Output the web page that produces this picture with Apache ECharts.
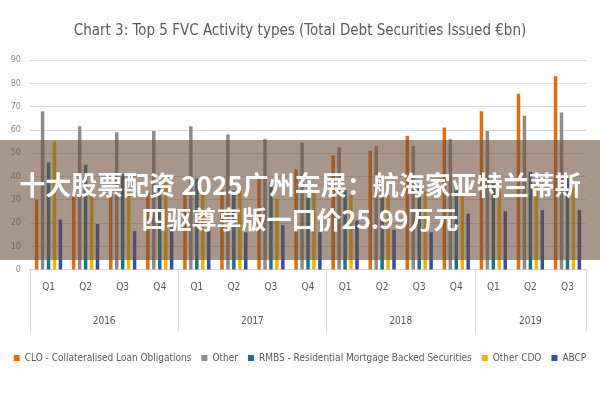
<html>
<head>
<script src="https://cdn.jsdelivr.net/npm/echarts@6/dist/echarts.min.js"></script>
<style>
  body { margin: 0; }
  #chart { width: 600px; height: 400px; }
</style>
</head>
<body>
<div id="chart"></div>
<script>
  var quarters = ['Q1', 'Q2', 'Q3', 'Q4', 'Q1', 'Q2', 'Q3', 'Q4', 'Q1', 'Q2', 'Q3', 'Q4', 'Q1', 'Q2', 'Q3'];
  var years = ['2016', '2017', '2018', '2019'];
  var yearEdges = [0, 4, 8, 12, 15];
  var yearCentres = [2, 6, 10, 13.5];

  var clo = [30, 31.5, 32.5, 33.5, 33.5, 34, 39.5, 43, 49, 51, 57.5, 61, 68, 75.5, 83];
  var other = [68, 61.5, 59, 59.5, 61.5, 58, 56, 54.5, 52.5, 53, 53, 56, 59.5, 66, 67.5];
  var rmbs = [46, 45, 41, 36, 39, 34, 37.5, 31, 34, 37, 36, 35, 37, 42, 40];
  var otherCdo = [55, 34, 34, 37.5, 34, 34, 30.5, 33, 32, 32, 33.5, 32.5, 34, 37.5, 35.5];
  var abcp = [21.5, 19.5, 16.5, 18, 18, 16, 19, 16, 21, 17, 16, 24, 25, 25.5, 25.5];

  var names = ['CLO - Collateralised Loan Obligations', 'Other', 'RMBS - Residential Mortgage Backed Securities', 'Other CDO', 'ABCP'];
  var colors = ['#E46C0A', '#8C8C8C', '#1E7186', '#F2B400', '#2F4FA8'];
  var font = '"Liberation Sans Narrow", "DejaVu Sans Condensed", sans-serif';

  var chart = echarts.init(document.getElementById('chart'));

  var series = [clo, other, rmbs, otherCdo, abcp].map(function (d, i) {
    return {
      name: names[i],
      type: 'bar',
      data: d,
      barWidth: 3.5,
      barGap: '70%',
      itemStyle: { color: colors[i] }
    };
  });

  var option = {
    animation: false,
    color: colors,
    textStyle: { fontFamily: font },
    title: {
      text: 'Chart 3: Top 5 FVC Activity types (Total Debt Securities Issued €bn)',
      left: 'center',
      top: 19,
      textStyle: { color: '#595959', fontSize: 15, fontWeight: 'normal', fontFamily: font }
    },
    legend: {
      bottom: 32,
      left: 'center',
      itemWidth: 6,
      itemHeight: 6,
      itemGap: 10,
      icon: 'rect',
      textStyle: { color: '#595959', fontSize: 10, fontFamily: font }
    },
    grid: { left: 30, right: 14, top: 60, bottom: 130.5 },
    xAxis: [{
      type: 'category',
      data: quarters,
      axisLine: { lineStyle: { color: '#d9d9d9' } },
      axisTick: { length: 31, lineStyle: { color: '#d9d9d9' } },
      axisLabel: { color: '#595959', fontSize: 10, margin: 13, fontFamily: font }
    }, {
      type: 'value',
      position: 'bottom',
      min: 0,
      max: 15,
      axisLine: { show: false },
      splitLine: { show: false },
      axisTick: { show: true, customValues: yearEdges, length: 63, lineStyle: { color: '#d9d9d9' } },
      axisLabel: {
        customValues: yearCentres,
        color: '#595959',
        fontSize: 10,
        margin: 47,
        fontFamily: font,
        formatter: function (v) { return years[yearCentres.indexOf(v)]; }
      }
    }],
    yAxis: {
      type: 'value',
      min: 0,
      max: 90,
      interval: 10,
      axisLine: { show: false },
      axisTick: { show: false },
      splitLine: { lineStyle: { color: '#d9d9d9' } },
      axisLabel: { color: '#8C8C8C', fontSize: 9, margin: 9, fontFamily: font }
    },
    series: series,
    graphic: [{
      type: 'rect',
      z: 100,
      shape: { x: 0, y: 140, width: 600, height: 120 },
      style: { fill: 'rgba(110,80,60,0.6)' }
    }, {
      type: 'text',
      z: 101,
      x: 300,
      y: 185,
      style: {
        text: '十大股票配资 2025广州车展：航海家亚特兰蒂斯',
        fill: '#ffffff',
        font: 'bold 26px "Noto Sans CJK SC", sans-serif',
        align: 'center',
        verticalAlign: 'middle'
      }
    }, {
      type: 'text',
      z: 101,
      x: 300,
      y: 219,
      style: {
        text: '四驱尊享版一口价25.99万元',
        fill: '#ffffff',
        font: 'bold 25px "Noto Sans CJK SC", sans-serif',
        align: 'center',
        verticalAlign: 'middle'
      }
    }]
  };

  chart.setOption(option);
</script>
</body>
</html>
